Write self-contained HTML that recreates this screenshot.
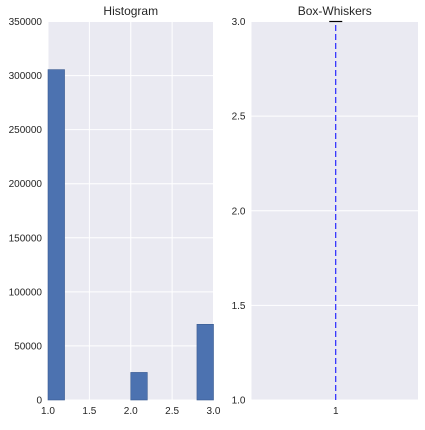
<!DOCTYPE html>
<html><head><meta charset="utf-8"><style>
body{margin:0;background:#fff;}
svg text{font-family:"Liberation Sans",sans-serif;fill:#262626;}
</style></head><body>
<svg width="425" height="425">
<g id="left"></g><g id="right"></g>
</svg>
<script>
const binEdges=[1.0,1.2,1.4,1.6,1.8,2.0,2.2,2.4,2.6,2.8,3.0];
const counts=[305500,0,0,0,0,25500,0,0,0,70000];
const histYTicks=[0,50000,100000,150000,200000,250000,300000,350000];
const histXTicks=[1.0,1.5,2.0,2.5,3.0];
const boxYTicks=[1.0,1.5,2.0,2.5,3.0];
const boxWhiskerLow=1.0, boxWhiskerHigh=3.0;
const boxCategories=["1"];
const NS="http://www.w3.org/2000/svg";
function mk(p,t,a,txt){const e=document.createElementNS(NS,t);for(const k in a)e.setAttribute(k,a[k]);if(txt!==undefined)e.textContent=txt;p.appendChild(e);return e;}
const L=document.getElementById('left'),R=document.getElementById('right');
// left histogram
const lx0=48,lx1=213.5,ly0=21.5,ly1=400;
const hx=v=>lx0+(v-1)/(3-1)*(lx1-lx0), hy=v=>ly1-v/350000*(ly1-ly0);
let bg=mk(L,'rect',{x:lx0,y:ly0,width:lx1-lx0,height:ly1-ly0,fill:'#EAEAF2'});


histYTicks.forEach(t=>{mk(L,'line',{x1:lx0,x2:lx1,y1:hy(t),y2:hy(t),stroke:'#fff','stroke-width':1});
const e=mk(L,'text',{x:lx0-6,y:hy(t)+3.5,'text-anchor':'end','font-size':10},String(t));

});
histXTicks.forEach(t=>{mk(L,'line',{x1:hx(t),x2:hx(t),y1:ly0,y2:ly1,stroke:'#fff','stroke-width':1});
const e=mk(L,'text',{x:hx(t),y:ly1+14,'text-anchor':'middle','font-size':10},t.toFixed(1));

});
counts.forEach((c,i)=>{if(c<=0)return;const b=mk(L,'rect',{x:hx(binEdges[i]),y:hy(c),width:hx(binEdges[i+1])-hx(binEdges[i]),height:ly1-hy(c),fill:'#4C72B0',stroke:'#3a5a90','stroke-width':0.6});

});
let t1=mk(L,'text',{x:(lx0+lx1)/2,y:15,'text-anchor':'middle','font-size':12},'Histogram');


// right box plot
const rx0=251.5,rx1=418,ry0=21.5,ry1=400;
const by=v=>ry1-(v-1)/(3-1)*(ry1-ry0);
const bx=i=>rx0+(i+0.5)/boxCategories.length*(rx1-rx0)+1;
let bg2=mk(R,'rect',{x:rx0,y:ry0,width:rx1-rx0,height:ry1-ry0,fill:'#EAEAF2'});


boxYTicks.forEach(t=>{mk(R,'line',{x1:rx0,x2:rx1,y1:by(t),y2:by(t),stroke:'#fff','stroke-width':1});
const e=mk(R,'text',{x:rx0-6,y:by(t)+3.5,'text-anchor':'end','font-size':10},t.toFixed(1));

});
boxCategories.forEach((c,i)=>{const x=bx(i);
const w=mk(R,'line',{x1:x,x2:x,y1:by(boxWhiskerLow),y2:by(boxWhiskerHigh),stroke:'#0000ff','stroke-width':1,'stroke-dasharray':'6,3'});


const cap=mk(R,'line',{x1:x-6.5,x2:x+6.5,y1:by(boxWhiskerHigh),y2:by(boxWhiskerHigh),stroke:'#000','stroke-width':1.2});


const e=mk(R,'text',{x:x,y:ry1+14,'text-anchor':'middle','font-size':10},c);

});
let t2=mk(R,'text',{x:(rx0+rx1)/2,y:15,'text-anchor':'middle','font-size':12},'Box-Whiskers');


</script>
</body></html>
